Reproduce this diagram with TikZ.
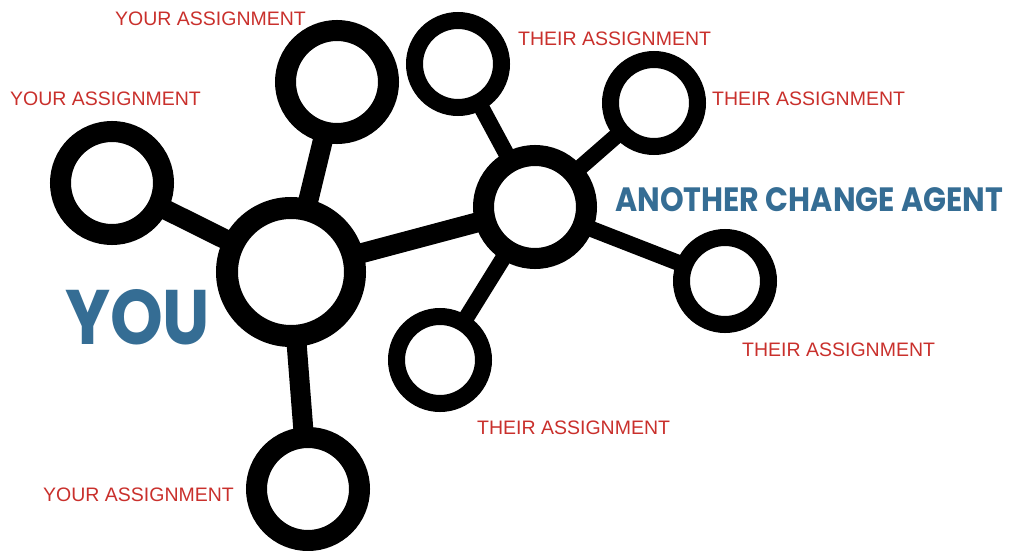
\documentclass[tikz,border=0pt]{standalone}
\usepackage{fontspec}
\setmainfont{Liberation Sans}
\newfontfamily\agentfont{Poppins}
\usetikzlibrary{backgrounds}
\definecolor{taskred}{RGB}{201,48,44}
\definecolor{agentblue}{RGB}{53,109,148}

\begin{document}
\begin{tikzpicture}[
  x=1pt, y=-1pt,
  hub/.style={circle, draw=black, fill=white, line width=22pt,
              minimum size=128pt, inner sep=0pt},
  ring/.style={circle, draw=black, fill=white, line width=21pt,
               minimum size=103pt, inner sep=0pt},
  sub/.style={circle, draw=black, fill=white, line width=17pt,
              minimum size=87pt, inner sep=0pt},
  task/.style={font=\fontsize{19.5}{20}\selectfont, text=taskred,
               inner sep=0pt, anchor=west},
  who/.style={font=\agentfont\bfseries, text=agentblue,
              inner sep=0pt, anchor=west},
  link/.style={line width=20pt},
  sublink/.style={line width=16pt},
]
\useasboundingbox (0,0) rectangle (1010,551);
% you and your assignments
\node[hub]  (you)   at (291,272) {};
\node[ring] (ytop)  at (337,82)  {};
\node[ring] (yleft) at (112,183) {};
\node[ring] (ybot)  at (308,489) {};
% the other agent and their assignments
\node[ring] (agent) at (535,207) {};
\node[sub]  (ttl)   at (458,64)  {};
\node[sub]  (ttr)   at (654,103) {};
\node[sub]  (tright) at (725,281) {};
\node[sub]  (tbot)  at (440,360) {};
% connectors behind the rings
\begin{scope}[on background layer]
\draw[link] (you.center) -- (ytop.center);
\draw[link] (you.center) -- (yleft.center);
\draw[link] (you.center) -- (ybot.center);
\draw[link] (you.center) -- (agent.center);
\draw[sublink] (agent.center) -- (ttl.center);
\draw[sublink] (agent.center) -- (ttr.center);
\draw[sublink] (agent.center) -- (tright.center);
\draw[sublink] (agent.center) -- (tbot.center);
\end{scope}
% labels
\node[task] (lytop)  at (115,19)  {YOUR ASSIGNMENT};
\node[task] (lyleft) at (10,98.5) {YOUR ASSIGNMENT};
\node[task] (lybot)  at (43,495)  {YOUR ASSIGNMENT};
\node[task] (lttl)   at (518,39)  {THEIR ASSIGNMENT};
\node[task] (lttr)   at (712,99)  {THEIR ASSIGNMENT};
\node[task] (ltright) at (742,350) {THEIR ASSIGNMENT};
\node[task] (ltbot)  at (477,427.5) {THEIR ASSIGNMENT};
\node[who] (lyou) at (65,317.5) {\resizebox{145pt}{55pt}{YOU}};
\node[who] (lagent) at (615,200) {\resizebox{388pt}{24pt}{ANOTHER CHANGE AGENT}};
\end{tikzpicture}
\end{document}
